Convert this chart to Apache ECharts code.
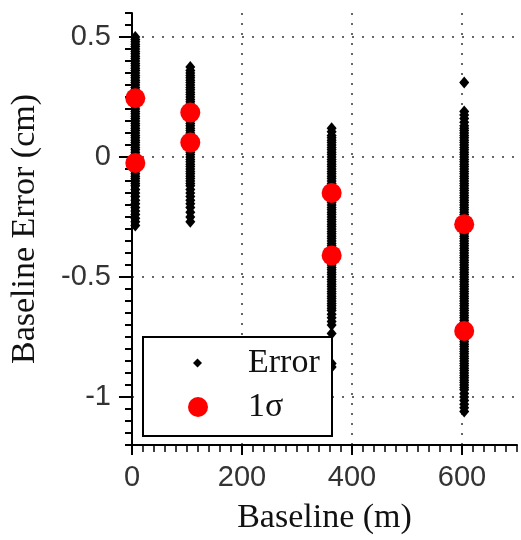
<!DOCTYPE html>
<html>
<head>
<meta charset="utf-8">
<script src="https://cdn.jsdelivr.net/npm/echarts@6/dist/echarts.min.js"></script>
<style>html,body{margin:0;padding:0;background:#fff}#c{width:521px;height:540px}</style>
</head>
<body>
<div id="c"></div>
<script>
// Baseline positions (m) of the four test baselines
const baselines = [6, 106, 363, 604];

// Error samples (cm) for each baseline
const errors6 = [0.50, 0.49, 0.48, 0.47, 0.46, 0.45, 0.44, 0.43, 0.42, 0.41, 0.40, 0.39, 0.38, 0.37, 0.36, 0.35, 0.34, 0.33, 0.32, 0.31, 0.30, 0.29, 0.28, 0.27, 0.26, 0.25, 0.24, 0.23, 0.22, 0.21, 0.20, 0.19, 0.18, 0.17, 0.16, 0.15, 0.14, 0.13, 0.12, 0.11, 0.10, 0.09, 0.08, 0.07, 0.06, 0.05, 0.04, 0.03, 0.02, 0.01, 0.00, -0.01, -0.02, -0.03, -0.04, -0.05, -0.06, -0.07, -0.08, -0.09, -0.10, -0.11, -0.12, -0.135, -0.15, -0.165, -0.18, -0.195, -0.21, -0.225, -0.24, -0.255, -0.27, -0.285];
const errors106 = [0.375, 0.36, 0.35, 0.34, 0.33, 0.32, 0.31, 0.30, 0.29, 0.28, 0.27, 0.26, 0.25, 0.24, 0.23, 0.22, 0.21, 0.20, 0.19, 0.18, 0.17, 0.16, 0.15, 0.14, 0.13, 0.12, 0.11, 0.10, 0.09, 0.08, 0.07, 0.06, 0.05, 0.04, 0.03, 0.02, 0.01, 0.00, -0.01, -0.02, -0.03, -0.04, -0.05, -0.06, -0.07, -0.08, -0.09, -0.10, -0.11, -0.12, -0.135, -0.15, -0.165, -0.18, -0.195, -0.21, -0.23, -0.25, -0.27];
const errors363 = [0.12, 0.105, 0.09, 0.08, 0.07, 0.06, 0.05, 0.04, 0.03, 0.02, 0.01, 0.00, -0.01, -0.02, -0.03, -0.04, -0.05, -0.06, -0.07, -0.08, -0.09, -0.10, -0.11, -0.12, -0.13, -0.14, -0.15, -0.16, -0.17, -0.18, -0.19, -0.20, -0.21, -0.22, -0.23, -0.24, -0.25, -0.26, -0.27, -0.28, -0.29, -0.30, -0.31, -0.32, -0.33, -0.34, -0.35, -0.36, -0.37, -0.38, -0.39, -0.40, -0.41, -0.42, -0.43, -0.44, -0.45, -0.46, -0.47, -0.48, -0.49, -0.50, -0.51, -0.52, -0.53, -0.54, -0.55, -0.56, -0.57, -0.58, -0.59, -0.60, -0.61, -0.62, -0.63, -0.64, -0.655, -0.67, -0.685, -0.70, -0.735, -0.86, -0.875];
const errors604 = [0.31, 0.19, 0.175, 0.16, 0.145, 0.13, 0.12, 0.11, 0.10, 0.09, 0.08, 0.07, 0.06, 0.05, 0.04, 0.03, 0.02, 0.01, 0.00, -0.01, -0.02, -0.03, -0.04, -0.05, -0.06, -0.07, -0.08, -0.09, -0.10, -0.11, -0.12, -0.13, -0.14, -0.15, -0.16, -0.17, -0.18, -0.19, -0.20, -0.21, -0.22, -0.23, -0.24, -0.25, -0.26, -0.27, -0.28, -0.29, -0.30, -0.31, -0.32, -0.33, -0.34, -0.35, -0.36, -0.37, -0.38, -0.39, -0.40, -0.41, -0.42, -0.43, -0.44, -0.45, -0.46, -0.47, -0.48, -0.49, -0.50, -0.51, -0.52, -0.53, -0.54, -0.55, -0.56, -0.57, -0.58, -0.59, -0.60, -0.61, -0.62, -0.63, -0.64, -0.65, -0.66, -0.67, -0.68, -0.69, -0.70, -0.71, -0.72, -0.73, -0.74, -0.75, -0.76, -0.77, -0.78, -0.79, -0.80, -0.81, -0.82, -0.83, -0.84, -0.85, -0.86, -0.87, -0.88, -0.89, -0.90, -0.91, -0.92, -0.93, -0.94, -0.95, -0.96, -0.97, -0.985, -1.00, -1.015, -1.03, -1.045, -1.06];

// 1-sigma bounds (cm) for each baseline: [upper, lower]
const sigmaUpper = [0.245, 0.185, -0.15, -0.28];
const sigmaLower = [-0.025, 0.06, -0.41, -0.725];

// Tick labels
const xTicks = [0, 200, 400, 600];
const yTicks = [-1, -0.5, 0, 0.5];

const errorSets = [errors6, errors106, errors363, errors604];
const errorData = [];
errorSets.forEach((arr, i) => arr.forEach(v => errorData.push([baselines[i], v])));
const sigmaData = [];
baselines.forEach((b, i) => { sigmaData.push([b, sigmaUpper[i]]); sigmaData.push([b, sigmaLower[i]]); });

const serif = 'Liberation Serif';
const sans = 'Liberation Sans';
const grid = { left: 129, width: 388, top: 13, height: 433 };
const dotted = { show: true, lineStyle: { color: '#666', width: 2, type: [2, 8] } };
const legendText = (gap) => ({
  fontFamily: serif, fontSize: 34, color: '#111', lineHeight: 34,
  rich: {
    g: { width: gap, height: 34 },
    t: { fontFamily: serif, fontSize: 34, color: '#111', lineHeight: 34, width: 72 }
  }
});

const chart = echarts.init(document.getElementById('c'), null, { renderer: 'canvas' });
chart.setOption({
  animation: false,
  backgroundColor: '#fff',
  grid: grid,
  xAxis: [
    {
      type: 'value', min: 0, max: 700, interval: 200, position: 'bottom',
      name: 'Baseline (m)', nameLocation: 'middle', nameGap: 56,
      nameTextStyle: { fontFamily: serif, fontSize: 34, color: '#111', lineHeight: 34 },
      axisLine: { show: true, onZero: false, lineStyle: { color: '#000', width: 2 } },
      axisTick: { show: true, length: 10, customValues: xTicks, lineStyle: { color: '#000', width: 2 } },
      axisLabel: { customValues: xTicks, margin: 18, fontFamily: sans, fontSize: 29, color: '#333', lineHeight: 30 },
      splitLine: dotted
    },
    {
      type: 'value', min: 0, max: 700, interval: 20, position: 'bottom',
      axisLine: { show: false, onZero: false },
      axisTick: { show: true, length: 7, lineStyle: { color: '#000', width: 1.5 } },
      axisLabel: { show: false },
      splitLine: { show: false }
    }
  ],
  yAxis: [
    {
      type: 'value', min: -1.2, max: 0.6, splitNumber: 4, position: 'left',
      name: 'Baseline Error (cm)', nameLocation: 'middle', nameGap: 90, nameRotate: 90,
      nameTextStyle: { fontFamily: serif, fontSize: 34, color: '#111', lineHeight: 34 },
      axisLine: { show: true, onZero: false, lineStyle: { color: '#000', width: 2 } },
      axisTick: { show: true, length: 13, customValues: yTicks, lineStyle: { color: '#000', width: 2 } },
      axisLabel: { customValues: yTicks, margin: 21, fontFamily: sans, fontSize: 29, color: '#333' },
      splitLine: dotted
    },
    {
      type: 'value', min: -1.2, max: 0.6, interval: 0.05, position: 'left',
      axisLine: { show: false, onZero: false },
      axisTick: { show: true, length: 7, lineStyle: { color: '#000', width: 2 } },
      axisLabel: { show: false },
      splitLine: { show: false }
    }
  ],
  legend: [
    {
      data: [{ name: 'Error', icon: 'diamond' }],
      orient: 'vertical', left: 143, top: 337, align: 'left',
      itemWidth: 9, itemHeight: 9,
      padding: [9, 12, 56, 50],
      backgroundColor: '#fff', borderColor: '#000', borderWidth: 2, borderRadius: 0,
      selectedMode: false, z: 6,
      formatter: '{g|}{t|{name}}',
      textStyle: legendText(41)
    },
    {
      data: [{ name: '1σ', icon: 'circle' }],
      orient: 'vertical', left: 188, top: 390, align: 'left',
      itemWidth: 20, itemHeight: 20,
      padding: 0, selectedMode: false, z: 7,
      formatter: '{g|}{t|{name}}',
      textStyle: legendText(35)
    }
  ],
  series: [
    {
      name: 'Error', type: 'scatter', xAxisIndex: 0, yAxisIndex: 0,
      symbol: 'diamond', symbolSize: [10, 12],
      itemStyle: { color: '#000', opacity: 1 },
      data: errorData, z: 2
    },
    {
      name: '1σ', type: 'scatter', xAxisIndex: 0, yAxisIndex: 0,
      symbol: 'circle', symbolSize: 20,
      itemStyle: { color: '#ff0000', opacity: 1 },
      data: sigmaData, z: 3
    }
  ]
});
</script>
</body>
</html>
